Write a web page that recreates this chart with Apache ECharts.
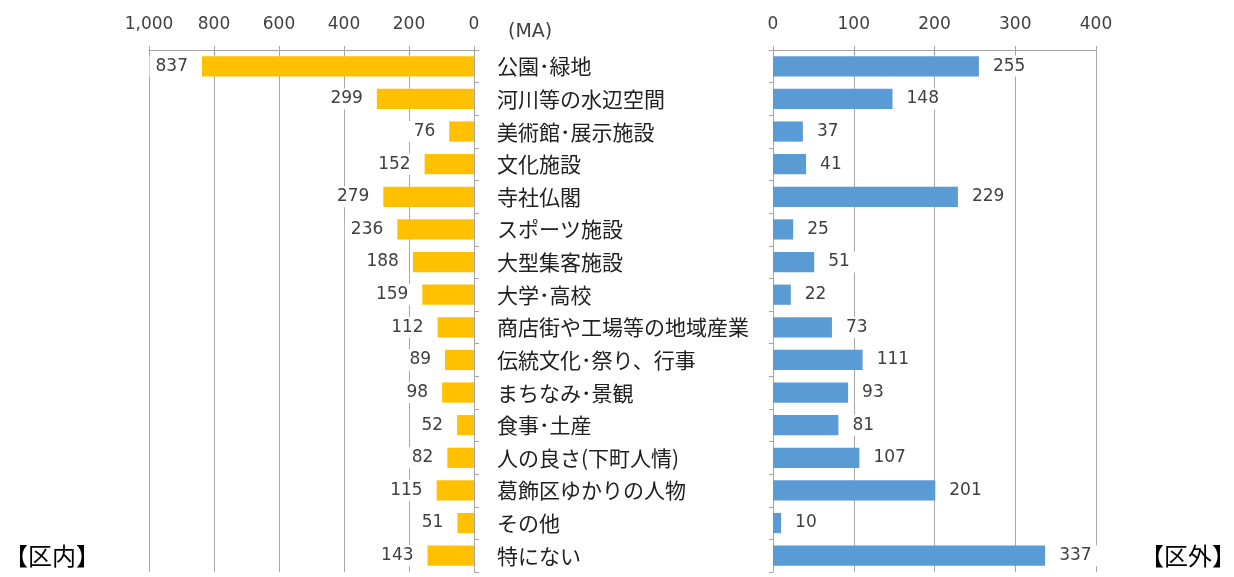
<!DOCTYPE html>
<html>
<head>
<meta charset="utf-8">
<script src="https://cdn.jsdelivr.net/npm/echarts@6/dist/echarts.min.js"></script>
<style>
html, body { margin: 0; padding: 0; background: #fff; }
#chart { width: 1234px; height: 577px; }
</style>
</head>
<body>
<div id="chart"></div>
<script>
var categories = ['公園･緑地', '河川等の水辺空間', '美術館･展示施設', '文化施設', '寺社仏閣', 'スポーツ施設', '大型集客施設', '大学･高校', '商店街や工場等の地域産業', '伝統文化･祭り、行事', 'まちなみ･景観', '食事･土産', '人の良さ(下町人情)', '葛飾区ゆかりの人物', 'その他', '特にない'];
var kunai = [837, 299, 76, 152, 279, 236, 188, 159, 112, 89, 98, 52, 82, 115, 51, 143];
var kugai = [255, 148, 37, 41, 229, 25, 51, 22, 73, 111, 93, 81, 107, 201, 10, 337];

var font = '"Noto Sans CJK JP", sans-serif';
var numFont = '"DejaVu Sans", sans-serif';
var textColor = '#404040';
var lineColor = '#a6a6a6';

var chart = echarts.init(document.getElementById('chart'));
chart.setOption({
    backgroundColor: '#fff',
    animation: false,
    textStyle: { fontFamily: font },
    graphic: [
        { type: 'text', left: 508, top: 23, style: { text: '(MA)', fontSize: 19, fill: textColor, fontFamily: numFont } },
        { type: 'text', left: 4, top: 544, style: { text: '【区内】', fontSize: 24, fill: '#000', fontFamily: font } },
        { type: 'text', left: 1140, top: 544, style: { text: '【区外】', fontSize: 24, fill: '#000', fontFamily: font } }
    ],
    grid: [
        { left: 149, right: 760, top: 50, height: 522 },
        { left: 773, right: 138, top: 50, height: 522 }
    ],
    xAxis: [
        {
            gridIndex: 0, type: 'value', position: 'top', inverse: true,
            min: 0, max: 1000, interval: 200,
            axisLine: { show: true, lineStyle: { color: lineColor } },
            axisTick: { show: true, length: 4, lineStyle: { color: lineColor } },
            splitLine: { show: true, lineStyle: { color: lineColor } },
            axisLabel: { fontSize: 17, fontFamily: numFont, color: textColor, margin: 17, formatter: function (v) { return v.toLocaleString('en-US'); } }
        },
        {
            gridIndex: 1, type: 'value', position: 'top',
            min: 0, max: 400, interval: 100,
            axisLine: { show: true, lineStyle: { color: lineColor } },
            axisTick: { show: true, length: 4, lineStyle: { color: lineColor } },
            splitLine: { show: true, lineStyle: { color: lineColor } },
            axisLabel: { fontSize: 17, fontFamily: numFont, color: textColor, margin: 17 }
        }
    ],
    yAxis: [
        {
            gridIndex: 0, type: 'category', data: categories, inverse: true, position: 'right',
            axisLine: { show: true, lineStyle: { color: lineColor } },
            axisTick: { show: true, length: 5, lineStyle: { color: lineColor } },
            axisLabel: { fontSize: 21, color: '#202020', margin: 23, align: 'left' }
        },
        {
            gridIndex: 1, type: 'category', data: categories, inverse: true, position: 'left',
            axisLine: { show: true, lineStyle: { color: lineColor } },
            axisTick: { show: true, length: 4, lineStyle: { color: lineColor } },
            axisLabel: { show: false }
        }
    ],
    series: [
        {
            name: '区内', type: 'bar', xAxisIndex: 0, yAxisIndex: 0, data: kunai,
            barWidth: '62%',
            itemStyle: { color: '#FFC000' },
            label: {
                show: true, position: 'left', distance: 8, fontSize: 17, fontFamily: numFont, color: textColor,
                backgroundColor: '#fff', padding: [4, 6, 0, 6]
            }
        },
        {
            name: '区外', type: 'bar', xAxisIndex: 1, yAxisIndex: 1, data: kugai,
            barWidth: '62%',
            itemStyle: { color: '#5B9BD5' },
            label: {
                show: true, position: 'right', distance: 8, fontSize: 17, fontFamily: numFont, color: textColor,
                backgroundColor: '#fff', padding: [4, 6, 0, 6]
            }
        }
    ]
});
</script>
</body>
</html>
